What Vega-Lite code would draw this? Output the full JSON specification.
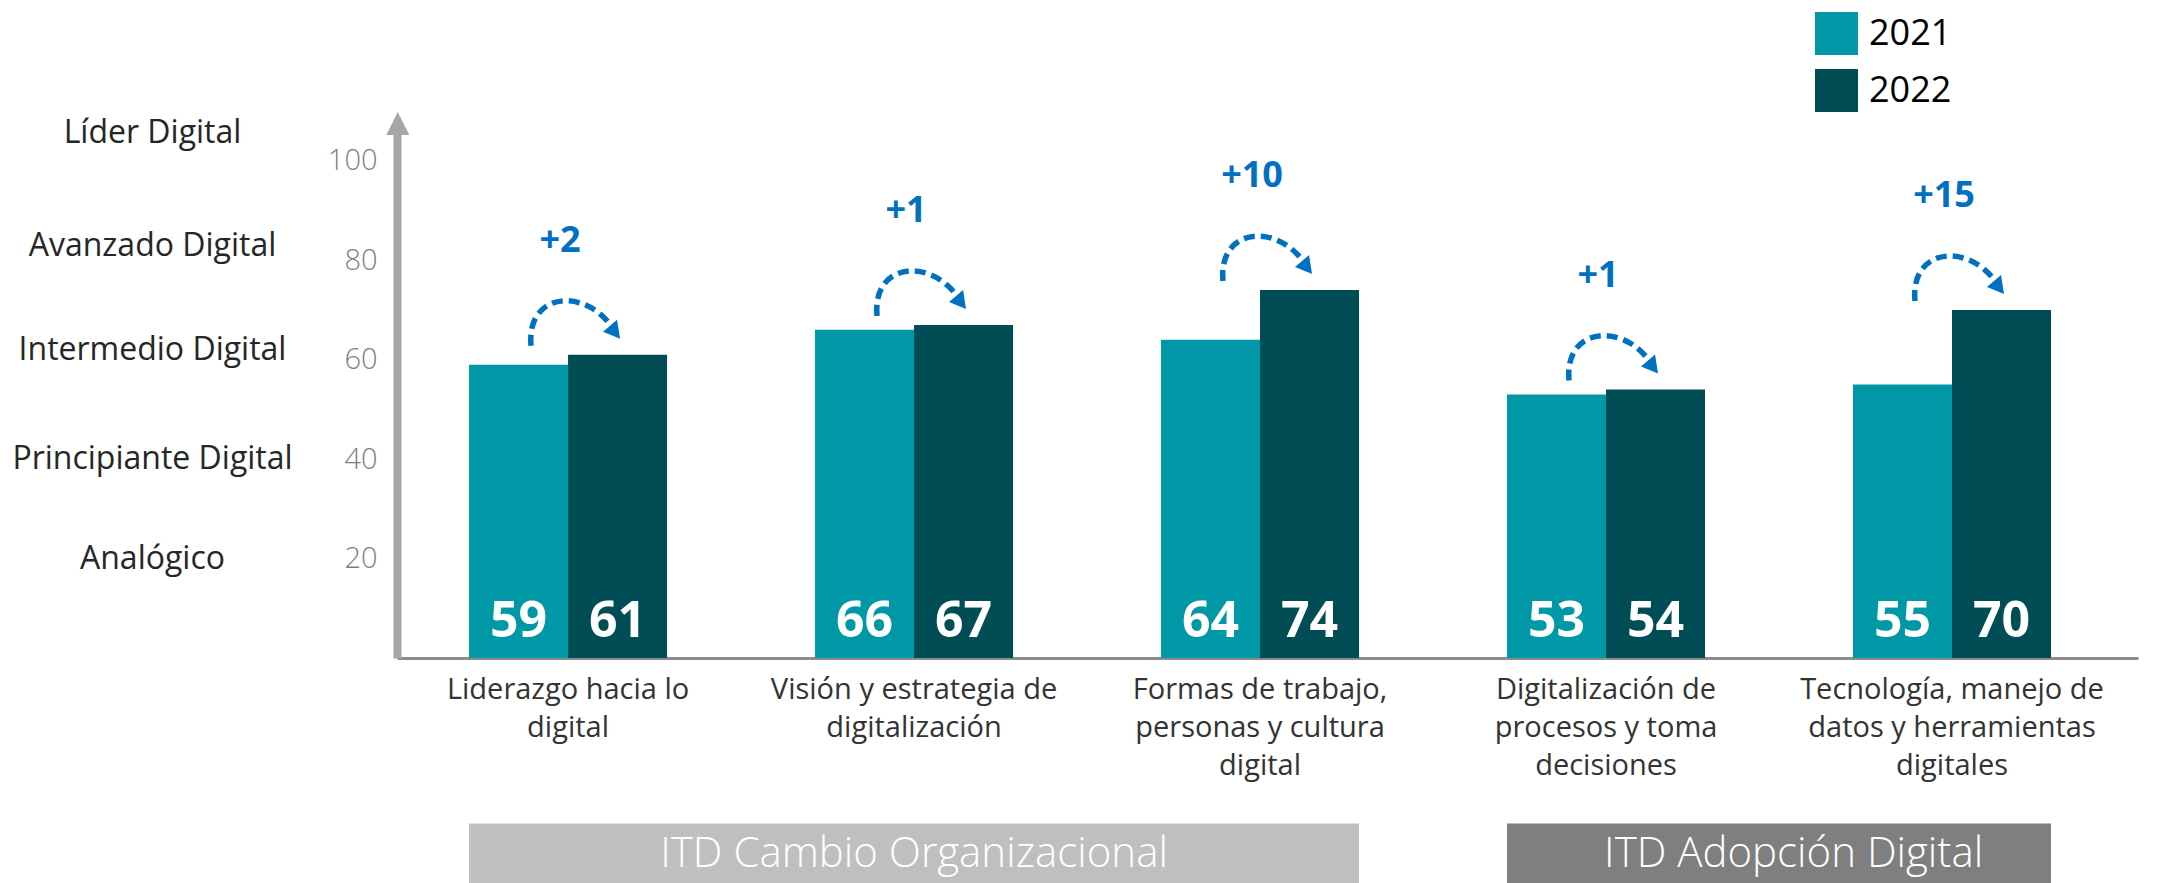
{
  "$schema": "https://vega.github.io/schema/vega-lite/v6.json",
  "width": 1741,
  "height": 527,
  "autosize": {"type": "none"},
  "padding": {"left": 397, "top": 131, "right": 39, "bottom": 225},
  "background": "white",
  "config": {"font": "Open Sans", "view": {"stroke": null}, "axis": {"grid": false}},
  "datasets": {
    "puntajes": [
      {"categoria": "Liderazgo hacia lo|digital", "anio": "2021", "valor": 59},
      {"categoria": "Liderazgo hacia lo|digital", "anio": "2022", "valor": 61},
      {"categoria": "Visión y estrategia de|digitalización", "anio": "2021", "valor": 66},
      {"categoria": "Visión y estrategia de|digitalización", "anio": "2022", "valor": 67},
      {"categoria": "Formas de trabajo,|personas y cultura|digital", "anio": "2021", "valor": 64},
      {"categoria": "Formas de trabajo,|personas y cultura|digital", "anio": "2022", "valor": 74},
      {"categoria": "Digitalización de|procesos y toma|decisiones", "anio": "2021", "valor": 53},
      {"categoria": "Digitalización de|procesos y toma|decisiones", "anio": "2022", "valor": 54},
      {"categoria": "Tecnología, manejo de|datos y herramientas|digitales", "anio": "2021", "valor": 55},
      {"categoria": "Tecnología, manejo de|datos y herramientas|digitales", "anio": "2022", "valor": 70}
    ],
    "cambios": [
      {"categoria": "Liderazgo hacia lo|digital", "valor2022": 61, "cambio": "+2"},
      {"categoria": "Visión y estrategia de|digitalización", "valor2022": 67, "cambio": "+1"},
      {"categoria": "Formas de trabajo,|personas y cultura|digital", "valor2022": 74, "cambio": "+10"},
      {"categoria": "Digitalización de|procesos y toma|decisiones", "valor2022": 54, "cambio": "+1"},
      {"categoria": "Tecnología, manejo de|datos y herramientas|digitales", "valor2022": 70, "cambio": "+15"}
    ],
    "grupos": [
      {"grupo": "ITD Cambio Organizacional", "desde": "Liderazgo hacia lo|digital", "hasta": "Formas de trabajo,|personas y cultura|digital"},
      {"grupo": "ITD Adopción Digital", "desde": "Digitalización de|procesos y toma|decisiones", "hasta": "Tecnología, manejo de|datos y herramientas|digitales"}
    ]
  },
  "data": {"name": "puntajes"},
  "encoding": {
    "x": {
      "field": "categoria",
      "type": "nominal",
      "sort": null,
      "title": null,
      "scale": {
        "domain": [
          "Liderazgo hacia lo|digital",
          "Visión y estrategia de|digitalización",
          "Formas de trabajo,|personas y cultura|digital",
          "Digitalización de|procesos y toma|decisiones",
          "Tecnología, manejo de|datos y herramientas|digitales"
        ],
        "paddingInner": 0.4277,
        "paddingOuter": 0.2298,
        "align": 0.453
      },
      "axis": {
        "title": null,
        "domain": true,
        "domainColor": "#8c8c8c",
        "domainWidth": 3,
        "ticks": false,
        "labelAngle": 0,
        "labelFontSize": 29,
        "labelColor": "#333333",
        "labelPadding": 17,
        "labelLineHeight": 38,
        "labelBaseline": "top",
        "labelLimit": 0,
        "labelExpr": "split(datum.label, '|')"
      }
    }
  },
  "layer": [
    {
      "mark": {"type": "bar"},
      "encoding": {
        "xOffset": {"field": "anio", "type": "nominal", "scale": {"paddingInner": 0, "paddingOuter": 0}},
        "y": {
          "field": "valor",
          "type": "quantitative",
          "scale": {"domain": [0, 106], "nice": false, "zero": true},
          "axis": {
            "title": null,
            "orient": "left",
            "values": [20, 40, 60, 80, 100],
            "domain": true,
            "domainColor": "#a6a6a6",
            "domainWidth": 8,
            "ticks": false,
            "labelFontSize": 29,
            "labelColor": "#7f7f7f",
            "labelPadding": 20,
            "labelFlush": false,
            "labelOverlap": false,
            "labelFontWeight": 300
          }
        },
        "color": {
          "field": "anio",
          "type": "nominal",
          "scale": {"domain": ["2021", "2022"], "range": ["#0097a7", "#004d56"]},
          "legend": {
            "title": null,
            "orient": "none",
            "legendX": 1418,
            "legendY": -119,
            "symbolType": "square",
            "symbolSize": 1849,
            "symbolStrokeWidth": 0,
            "symbolOpacity": 1,
            "labelFontSize": 36,
            "labelColor": "#000000",
            "labelOffset": 11,
            "rowPadding": 14,
            "padding": 0
          }
        }
      }
    },
    {
      "mark": {"type": "text", "baseline": "alphabetic", "dy": -21, "fontSize": 50, "fontWeight": "bold", "color": "white"},
      "encoding": {
        "xOffset": {"field": "anio", "type": "nominal"},
        "y": {"datum": 0, "axis": null},
        "text": {"field": "valor", "type": "quantitative"}
      }
    },
    {
      "data": {"name": "cambios"},
      "mark": {"type": "point", "shape": "M-37,-9 C-42,-62 15,-67.5 43,-29", "size": 4, "filled": false, "stroke": "#0070c0", "strokeWidth": 5.5, "strokeDash": [11, 6], "strokeCap": "butt", "opacity": 1},
      "encoding": {"y": {"field": "valor2022", "type": "quantitative", "axis": null}}
    },
    {
      "data": {"name": "cambios"},
      "mark": {"type": "point", "shape": "M52,-16 L35,-23 L49,-35 Z", "size": 4, "filled": true, "fill": "#0070c0", "strokeWidth": 0, "opacity": 1},
      "encoding": {"y": {"field": "valor2022", "type": "quantitative", "axis": null}}
    },
    {
      "data": {"name": "cambios"},
      "mark": {"type": "text", "fontSize": 36, "fontWeight": "bold", "color": "#0070c0", "baseline": "middle", "dy": -114, "dx": -8},
      "encoding": {
        "y": {"field": "valor2022", "type": "quantitative", "axis": null},
        "text": {"field": "cambio"}
      }
    },
    {
      "data": {"values": [{"eje": "nivel"}]},
      "mark": {"type": "point", "shape": "M0,-1L1,1L-1,1Z", "size": 529, "filled": true, "fill": "#a6a6a6", "strokeWidth": 0, "opacity": 1},
      "encoding": {
        "x": {"datum": "Liderazgo hacia lo|digital", "bandPosition": -0.36, "title": null},
        "y": {
          "datum": 107.5,
          "axis": {
            "title": null,
            "orient": "left",
            "values": [105.6, 82.9, 62, 40.2, 20.1],
            "labelExpr": "datum.value > 100 ? 'Líder Digital' : datum.value > 75 ? 'Avanzado Digital' : datum.value > 50 ? 'Intermedio Digital' : datum.value > 30 ? 'Principiante Digital' : 'Analógico'",
            "domain": false,
            "ticks": false,
            "labelAlign": "center",
            "labelBaseline": "middle",
            "labelPadding": 245,
            "labelFontSize": 32,
            "labelColor": "#262626",
            "labelFlush": false,
            "labelOverlap": false,
            "labelLimit": 0
          }
        }
      }
    },
    {
      "data": {"name": "grupos"},
      "mark": {"type": "rect"},
      "encoding": {
        "x": {"field": "desde", "type": "nominal", "bandPosition": 0, "title": null},
        "x2": {"field": "hasta", "bandPosition": 1},
        "y": {"datum": -33.3, "axis": null},
        "y2": {"datum": -45.3},
        "fill": {"field": "grupo", "type": "nominal", "scale": {"domain": ["ITD Cambio Organizacional", "ITD Adopción Digital"], "range": ["#bfbfbf", "#7f7f7f"]}, "legend": null}
      }
    },
    {
      "data": {"values": [{"grupo": "ITD Cambio Organizacional"}]},
      "mark": {"type": "text", "fontSize": 42, "fontWeight": 300, "color": "white", "baseline": "middle"},
      "encoding": {
        "x": {"datum": "Visión y estrategia de|digitalización", "title": null},
        "y": {"datum": -39.4, "axis": null},
        "text": {"field": "grupo"}
      }
    },
    {
      "data": {"values": [{"grupo": "ITD Adopción Digital"}]},
      "mark": {"type": "text", "fontSize": 42, "fontWeight": 300, "color": "white", "baseline": "middle"},
      "encoding": {
        "x": {"datum": "Tecnología, manejo de|datos y herramientas|digitales", "bandPosition": -0.3, "title": null},
        "y": {"datum": -39.4, "axis": null},
        "text": {"field": "grupo"}
      }
    }
  ],
  "resolve": {"axis": {"y": "independent"}}
}
